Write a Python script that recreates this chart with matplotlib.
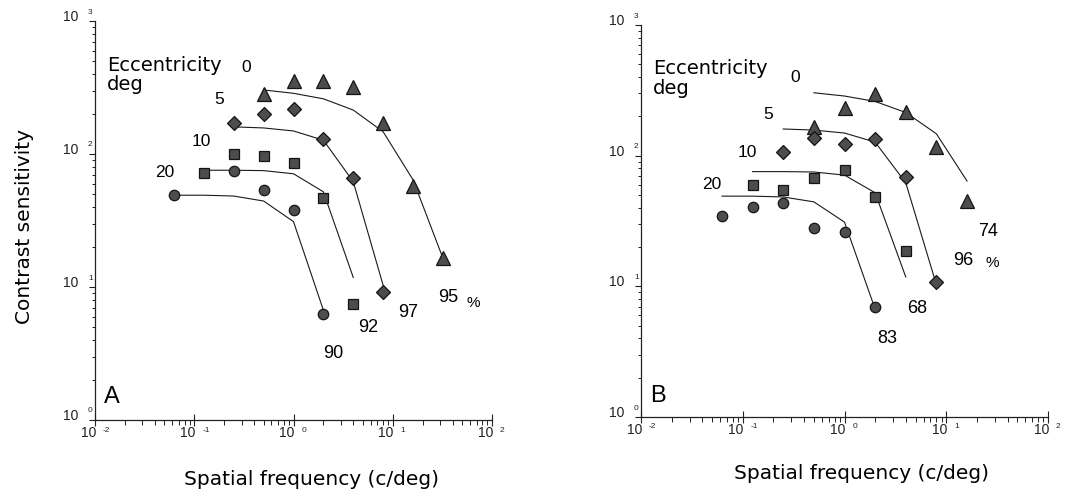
import matplotlib
matplotlib.use("Agg")
import matplotlib.pyplot as plt
import numpy as np

# ---------------------------------------------------------------------------
# Data: contrast sensitivity vs spatial frequency (c/deg) at four eccentricities
# ---------------------------------------------------------------------------
eccentricities = [0, 5, 10, 20]
ecc_labels = ["0", "5", "10", "20"]
markers = ["^", "D", "s", "o"]

# Panel A measurements
a_freq_0 = [0.5, 1, 2, 4, 8, 16, 32]
a_sens_0 = [281, 356, 356, 321, 170, 57, 16.4]
a_freq_5 = [0.25, 0.5, 1, 2, 4, 8]
a_sens_5 = [172, 200, 217, 129, 66, 9.1]
a_freq_10 = [0.125, 0.25, 0.5, 1, 2, 4]
a_sens_10 = [72, 100, 97, 86, 46.5, 7.5]
a_freq_20 = [0.0625, 0.25, 0.5, 1, 2]
a_sens_20 = [49, 74, 54, 38, 6.3]

# Panel B measurements
b_freq_0 = [0.5, 1, 2, 4, 8, 16]
b_sens_0 = [165, 230, 297, 214, 116, 45]
b_freq_5 = [0.25, 0.5, 1, 2, 4, 8]
b_sens_5 = [107, 137, 123, 133, 69, 10.7]
b_freq_10 = [0.125, 0.25, 0.5, 1, 2, 4]
b_sens_10 = [60, 54.6, 67, 78, 48.4, 18.7]
b_freq_20 = [0.0625, 0.125, 0.25, 0.5, 1, 2]
b_sens_20 = [34.4, 40.6, 43.6, 28.2, 25.9, 7.0]

# Model predictions (same curves in both panels)
fit_freq_0 = [0.5, 1, 2, 4, 8, 16, 32]
fit_sens_0 = [303, 286, 260, 214, 147, 64, 16.5]
fit_freq_5 = [0.25, 0.5, 1, 2, 4, 8]
fit_sens_5 = [160, 157, 149, 127, 62, 10.3]
fit_freq_10 = [0.125, 0.25, 0.5, 1, 2, 4]
fit_sens_10 = [75.5, 75.5, 75, 71, 52, 11.8]
fit_freq_20 = [0.0625, 0.125, 0.25, 0.5, 1, 2]
fit_sens_20 = [49, 49, 48.3, 44.3, 31, 6.7]

# Percentage of variance accounted for, per eccentricity
a_percent = ["95", "97", "92", "90"]
b_percent = ["74", "96", "68", "83"]

x_decades = [-2, -1, 0, 1, 2]
y_decades = [0, 1, 2, 3]

# ---------------------------------------------------------------------------
W, H = 1073, 493
fig = plt.figure(figsize=(W / 100, H / 100), dpi=100)
fig.patch.set_facecolor("white")

NUM_FONT = "Liberation Sans"
TXT_FONT = "DejaVu Sans"


def px_axes(left, top, right, bottom):
    return fig.add_axes([left / W, 1 - bottom / H, (right - left) / W, (bottom - top) / H])


def ftext(x, y, s, size, family=NUM_FONT, ha="center", va="baseline", **kw):
    fig.text(x / W, 1 - y / H, s, fontsize=size, family=family, ha=ha, va=va, **kw)


def style_axes(ax):
    ax.set_xscale("log")
    ax.set_yscale("log")
    ax.set_xlim(10.0 ** x_decades[0], 10.0 ** x_decades[-1])
    ax.set_ylim(10.0 ** y_decades[0], 10.0 ** y_decades[-1])
    for side in ("top", "right"):
        ax.spines[side].set_visible(False)
    for side in ("left", "bottom"):
        ax.spines[side].set_linewidth(0.9)
        ax.spines[side].set_color("#222222")
    ax.set_xticks([10.0 ** d for d in x_decades])
    ax.set_yticks([10.0 ** d for d in y_decades])
    ax.xaxis.set_minor_locator(matplotlib.ticker.LogLocator(base=10, subs=np.arange(2, 10)))
    ax.yaxis.set_minor_locator(matplotlib.ticker.LogLocator(base=10, subs=np.arange(2, 10)))
    ax.set_xticklabels([])
    ax.set_yticklabels([])
    ax.set_xticklabels([], minor=True)
    ax.set_yticklabels([], minor=True)
    ax.tick_params(axis="x", which="major", direction="inout", length=8, width=0.8, color="#222222")
    ax.tick_params(axis="x", which="minor", direction="out", length=3.5, width=0.7, color="#222222")
    ax.tick_params(axis="y", which="major", direction="out", length=4, width=0.8, color="#222222")
    ax.tick_params(axis="y", which="minor", direction="out", length=2.5, width=0.7, color="#222222")
    ax.patch.set_alpha(0)

    # power-of-ten tick labels written as "10" with a small raised exponent
    for d in x_decades:
        ax.annotate("10", xy=(10.0 ** d, 0), xycoords=("data", "axes fraction"),
                    xytext=(1, -13), textcoords="offset pixels", ha="right", va="center",
                    fontsize=10, family=NUM_FONT, color="#222222", annotation_clip=False)
        ax.annotate(str(d).replace("-", "-"), xy=(10.0 ** d, 0), xycoords=("data", "axes fraction"),
                    xytext=(8, -10), textcoords="offset pixels", ha="left", va="center",
                    fontsize=6, family=NUM_FONT, color="#222222", annotation_clip=False)
    for d in y_decades:
        ax.annotate("10", xy=(0, 10.0 ** d), xycoords=("axes fraction", "data"),
                    xytext=(-17, 4), textcoords="offset pixels", ha="right", va="center",
                    fontsize=10, family=NUM_FONT, color="#222222", annotation_clip=False)
        ax.annotate(str(d), xy=(0, 10.0 ** d), xycoords=("axes fraction", "data"),
                    xytext=(-7, 9), textcoords="offset pixels", ha="left", va="center",
                    fontsize=6, family=NUM_FONT, color="#222222", annotation_clip=False)


MARKER_SIZE = {"^": 9.5, "D": 7, "s": 7.5, "o": 7.5}


def draw_panel(ax, series, fits):
    for (fq, sv), m in zip(fits, markers):
        ax.plot(fq, sv, color="#1a1a1a", lw=0.8, zorder=2, clip_on=False)
    for (fq, sv), m in zip(series, markers):
        ax.plot(fq, sv, linestyle="none", marker=m, ms=MARKER_SIZE[m],
                mfc="#4d4d4d", mec="#141414", mew=0.9, zorder=3, clip_on=False)


fits_a = [(fit_freq_0, fit_sens_0), (fit_freq_5, fit_sens_5),
          (fit_freq_10, fit_sens_10), (fit_freq_20, fit_sens_20)]
fits_b = [(fit_freq_0[:-1], fit_sens_0[:-1]), (fit_freq_5, fit_sens_5),
          (fit_freq_10, fit_sens_10), (fit_freq_20, fit_sens_20)]

# Panel A
ax_a = px_axes(95, 21, 492, 420)
style_axes(ax_a)
draw_panel(ax_a,
           [(a_freq_0, a_sens_0), (a_freq_5, a_sens_5),
            (a_freq_10, a_sens_10), (a_freq_20, a_sens_20)],
           fits_a)

# Panel B
ax_b = px_axes(641, 25, 1048, 417)
style_axes(ax_b)
draw_panel(ax_b,
           [(b_freq_0, b_sens_0), (b_freq_5, b_sens_5),
            (b_freq_10, b_sens_10), (b_freq_20, b_sens_20)],
           fits_b)

# Eccentricity annotations
ftext(107, 71, "Eccentricity", 14, family=TXT_FONT, ha="left")
ftext(107, 90, "deg", 14, family=TXT_FONT, ha="left")
for (x, y), s in zip([(246, 72), (219, 104), (201, 146), (165, 177)], ecc_labels):
    ftext(x, y, s, 12.5)

ftext(653, 74, "Eccentricity", 14, family=TXT_FONT, ha="left")
ftext(653, 94, "deg", 14, family=TXT_FONT, ha="left")
for (x, y), s in zip([(795, 82), (768, 119), (747, 157), (712, 189)], ecc_labels):
    ftext(x, y, s, 12.5)

# Percent-variance labels
for (x, y), s in zip([(448, 302), (408, 317), (368, 332), (333, 358)], a_percent):
    ftext(x, y, s, 13)
ftext(473, 307, "%", 11)
for (x, y), s in zip([(988, 236), (963, 265), (917, 313), (887, 343)], b_percent):
    ftext(x, y, s, 13)
ftext(992, 267, "%", 11)

# Panel letters
ftext(112, 403, "A", 17)
ftext(658, 402, "B", 17)

# Axis titles
ftext(25, 227, "Contrast sensitivity", 14.5, family=TXT_FONT, va="center", rotation=90)
ftext(311, 485, "Spatial frequency (c/deg)", 14.5, family=TXT_FONT)
ftext(862, 479, "Spatial frequency (c/deg)", 14.5, family=TXT_FONT)

fig.savefig("out.png", dpi=100, facecolor="white")
